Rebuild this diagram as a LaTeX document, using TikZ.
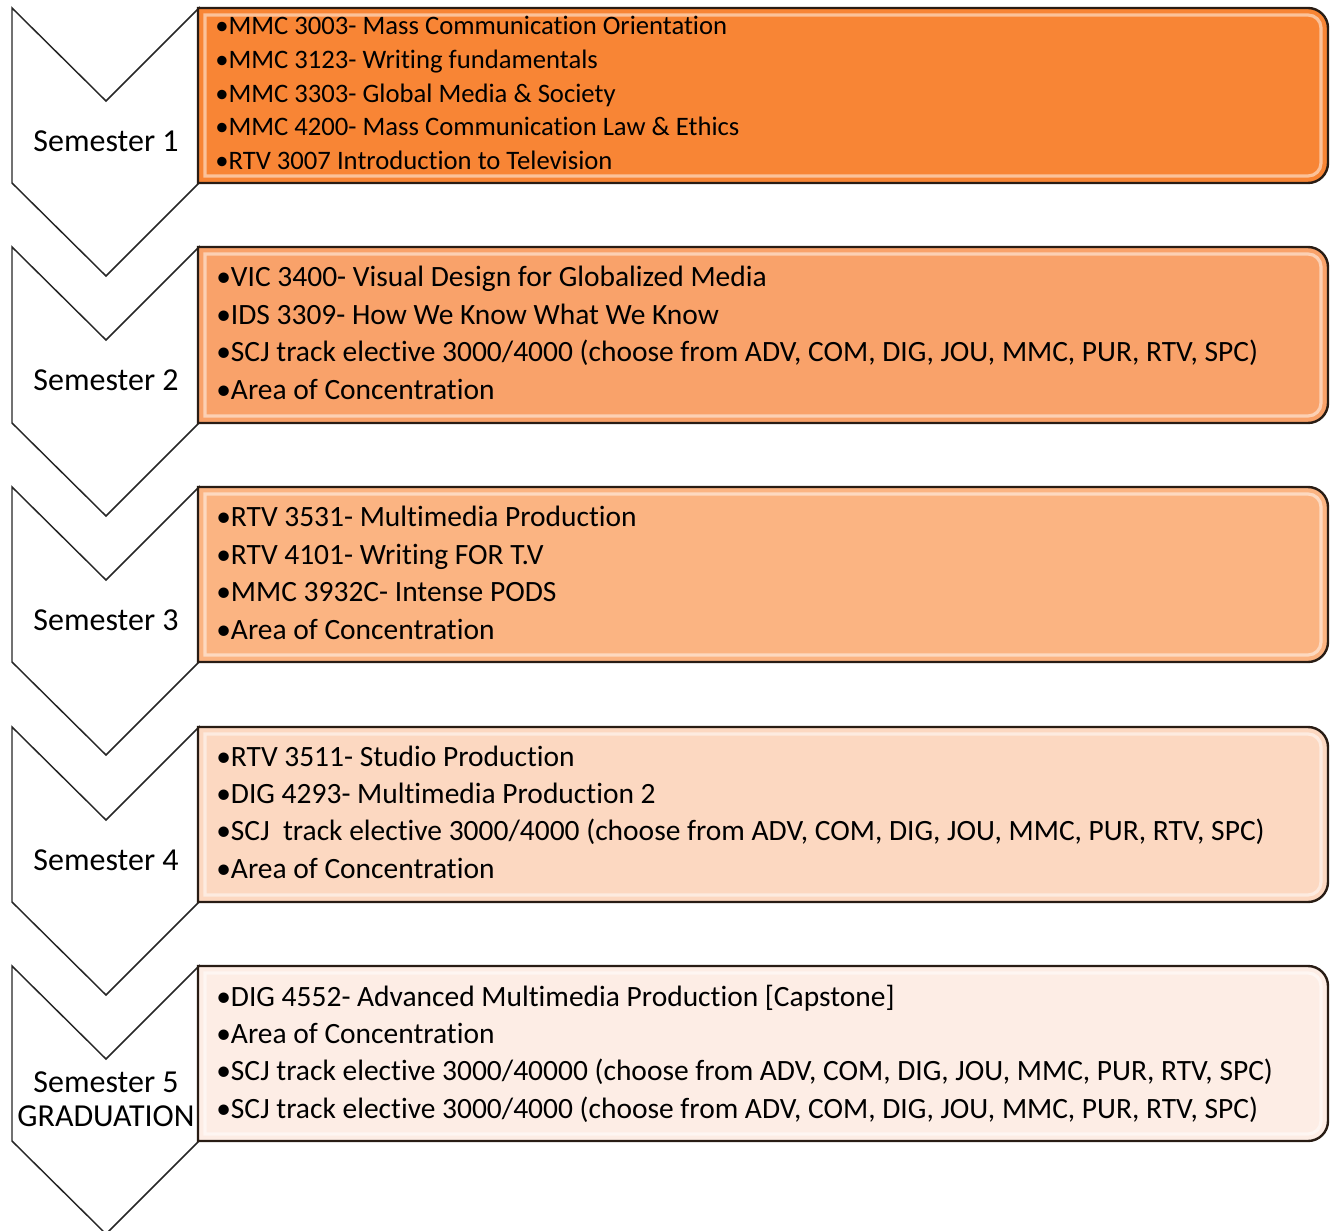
\documentclass[tikz,border=0pt]{standalone}
\usepackage{fontspec}
\setmainfont{Carlito}[Ligatures=NoCommon]
\definecolor{semA}{RGB}{248,133,53}
\definecolor{semB}{RGB}{249,162,106}
\definecolor{semC}{RGB}{251,180,130}
\definecolor{semD}{RGB}{252,216,193}
\definecolor{semE}{RGB}{253,237,229}
\definecolor{boxline}{RGB}{40,28,20}
\begin{document}
\begin{tikzpicture}[x=0.75pt,y=0.75pt,yscale=-1,
  chevron/.style={draw=black!85, line width=1.1pt, fill=white, line join=miter},
  box/.style={draw=boxline, line width=1.8pt},
  bevel/.style={draw=white, draw opacity=0.5, line width=2.4pt},
  item/.style={anchor=base west, inner sep=0pt, font=\fontsize{22.1}{26}\selectfont},
  itemsmall/.style={item, font=\fontsize{20}{24}\selectfont},
  sem/.style={anchor=base, inner sep=0pt, font=\fontsize{24}{28}\selectfont}]
\useasboundingbox (0,0) rectangle (1333,1230);

%Shape: Chevrons
\draw [chevron] (12,8) -- (106,101) -- (199,8) -- (199,183) -- (106,276) -- (12,183) -- cycle;
\draw [chevron] (12,247) -- (106,340) -- (199,247) -- (199,423) -- (106,516) -- (12,423) -- cycle;
\draw [chevron] (12,487) -- (106,580) -- (199,487) -- (199,662) -- (106,755) -- (12,662) -- cycle;
\draw [chevron] (12,727) -- (106,820) -- (199,727) -- (199,902) -- (106,995) -- (12,902) -- cycle;
\draw [chevron] (12,966) -- (106,1059) -- (199,966) -- (199,1141) -- (106,1234) -- (12,1141) -- cycle;

%Shape: Course boxes
\draw [box, fill=semA] (198,8) -- (1308,8) arc[start angle=-90, end angle=0, radius=20] -- (1328,163) arc[start angle=0, end angle=90, radius=20] -- (198,183) -- cycle;
\draw [bevel] (205,15) -- (1308,15) arc[start angle=-90, end angle=0, radius=13] -- (1321,163) arc[start angle=0, end angle=90, radius=13] -- (205,176) -- cycle;
\draw [box, fill=semB] (198,247) -- (1308,247) arc[start angle=-90, end angle=0, radius=20] -- (1328,403) arc[start angle=0, end angle=90, radius=20] -- (198,423) -- cycle;
\draw [bevel] (205,254) -- (1308,254) arc[start angle=-90, end angle=0, radius=13] -- (1321,403) arc[start angle=0, end angle=90, radius=13] -- (205,416) -- cycle;
\draw [box, fill=semC] (198,487) -- (1308,487) arc[start angle=-90, end angle=0, radius=20] -- (1328,642) arc[start angle=0, end angle=90, radius=20] -- (198,662) -- cycle;
\draw [bevel] (205,494) -- (1308,494) arc[start angle=-90, end angle=0, radius=13] -- (1321,642) arc[start angle=0, end angle=90, radius=13] -- (205,655) -- cycle;
\draw [box, fill=semD] (198,727) -- (1308,727) arc[start angle=-90, end angle=0, radius=20] -- (1328,882) arc[start angle=0, end angle=90, radius=20] -- (198,902) -- cycle;
\draw [bevel] (205,734) -- (1308,734) arc[start angle=-90, end angle=0, radius=13] -- (1321,882) arc[start angle=0, end angle=90, radius=13] -- (205,895) -- cycle;
\draw [box, fill=semE] (198,966) -- (1308,966) arc[start angle=-90, end angle=0, radius=20] -- (1328,1121) arc[start angle=0, end angle=90, radius=20] -- (198,1141) -- cycle;
\draw [bevel] (205,973) -- (1308,973) arc[start angle=-90, end angle=0, radius=13] -- (1321,1121) arc[start angle=0, end angle=90, radius=13] -- (205,1134) -- cycle;

% Text Node
\node (s1) at (106,151.7) [sem] {Semester 1};
\node (s2) at (106,390.7) [sem] {Semester 2};
\node (s3) at (106,630.7) [sem] {Semester 3};
\node (s4) at (106,870.7) [sem] {Semester 4};
\node (s5) at (106,1092.7) [sem] {Semester 5};
\node (s5g) at (106,1126) [sem] {GRADUATION};

% Text Node
\node (c1a) at (215,35) [itemsmall] {•MMC 3003- Mass Communication Orientation};
\node (c1b) at (215,69) [itemsmall] {•MMC 3123- Writing fundamentals};
\node (c1c) at (215,102.5) [itemsmall] {•MMC 3303- Global Media \& Society};
\node (c1d) at (215,136) [itemsmall] {•MMC 4200- Mass Communication Law \& Ethics};
\node (c1e) at (215,170) [itemsmall] {•RTV 3007 Introduction to Television};

\node (c2a) at (216,286.7) [item] {•VIC 3400- Visual Design for Globalized Media};
\node (c2b) at (216,324.2) [item] {•IDS 3309- How We Know What We Know};
\node (c2c) at (216,361.7) [item] {•SCJ track elective 3000/4000 (choose from ADV, COM, DIG, JOU, MMC, PUR, RTV, SPC)};
\node (c2d) at (216,399.2) [item] {•Area of Concentration};

\node (c3a) at (216,526.5) [item] {•RTV 3531- Multimedia Production};
\node (c3b) at (216,564) [item] {•RTV 4101- Writing FOR T.V};
\node (c3c) at (216,601.5) [item] {•MMC 3932C- Intense PODS};
\node (c3d) at (216,639) [item] {•Area of Concentration};

\node (c4a) at (216,766) [item] {•RTV 3511- Studio Production};
\node (c4b) at (216,803.3) [item] {•DIG 4293- Multimedia Production 2};
\node (c4c) at (216,840.7) [item] {•SCJ\ \ track elective 3000/4000 (choose from ADV, COM, DIG, JOU, MMC, PUR, RTV, SPC)};
\node (c4d) at (216,878.3) [item] {•Area of Concentration};

\node (c5a) at (216,1006) [item] {•DIG 4552- Advanced Multimedia Production [Capstone]};
\node (c5b) at (216,1043.3) [item] {•Area of Concentration};
\node (c5c) at (216,1080.7) [item] {•SCJ track elective 3000/40000 (choose from ADV, COM, DIG, JOU, MMC, PUR, RTV, SPC)};
\node (c5d) at (216,1118) [item] {•SCJ track elective 3000/4000 (choose from ADV, COM, DIG, JOU, MMC, PUR, RTV, SPC)};
\end{tikzpicture}
\end{document}
